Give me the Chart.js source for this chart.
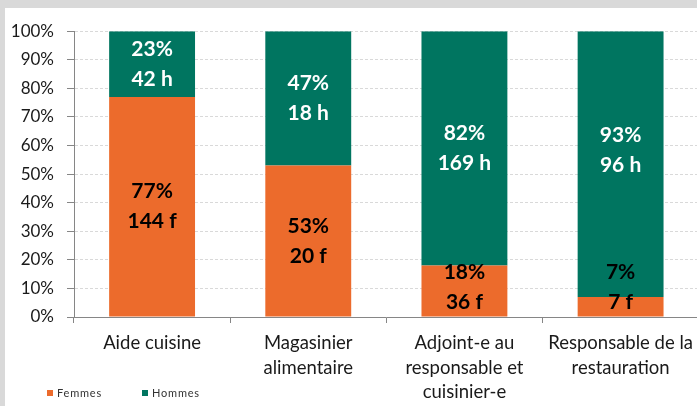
<!DOCTYPE html>
<html>
<head>
<meta charset="utf-8">
<script src="https://cdn.jsdelivr.net/npm/chart.js@4"></script>
<style>
  html, body { margin: 0; padding: 0; background: #d9d9d9; overflow: hidden; }
  #wrap { position: absolute; left: 5px; top: 8px; width: 696px; height: 398px; background: #fff; }
</style>
</head>
<body>
<div id="wrap"><canvas id="chartCanvas" width="696" height="398"></canvas></div>
<script>
const categories = [
  ["Aide cuisine"],
  ["Magasinier", "alimentaire"],
  ["Adjoint-e au", "responsable et", "cuisinier-e"],
  ["Responsable de la", "restauration"],
];
const femmesPct = [77, 53, 18, 7];
const hommesPct = [23, 47, 82, 93];
const femmesCount = [144, 20, 36, 7];
const hommesCount = [42, 18, 169, 96];
const yTicks = [0, 10, 20, 30, 40, 50, 60, 70, 80, 90, 100];

const orange = "#ec6b2c";
const green = "#007560";

// two-line labels centred in each segment
const segmentLabels = {
  id: "segmentLabels",
  afterDatasetsDraw(chart) {
    const ctx = chart.ctx;
    ctx.save();
    ctx.font = "bold 21px Lato";
    ctx.textAlign = "center";
    ctx.textBaseline = "middle";
    chart.data.datasets.forEach((ds, di) => {
      const meta = chart.getDatasetMeta(di);
      meta.data.forEach((bar, i) => {
        let cy = (bar.y + bar.base) / 2;
        if (di === 0) cy = Math.min(cy, bar.base - 29);
        if (di === 1 && i === 3) cy -= 14;
        const lines = di === 0
          ? [femmesPct[i] + "%", femmesCount[i] + " f"]
          : [hommesPct[i] + "%", hommesCount[i] + " h"];
        ctx.fillStyle = di === 0 ? "#000" : "#fff";
        ctx.fillText(lines[0], bar.x, cy - 15);
        ctx.fillText(lines[1], bar.x, cy + 15);
      });
    });
    ctx.restore();
  },
};

const bottomLegend = {
  id: "bottomLegend",
  afterDraw(chart) {
    const ctx = chart.ctx;
    const items = [
      { text: "Femmes", color: orange, x: 42 },
      { text: "Hommes", color: green, x: 137 },
    ];
    ctx.save();
    ctx.font = "11px Lato";
    ctx.letterSpacing = "0.8px";
    ctx.textBaseline = "middle";
    items.forEach((it) => {
      ctx.fillStyle = it.color;
      ctx.fillRect(it.x, 382, 6, 6);
      ctx.fillStyle = "#333";
      ctx.fillText(it.text, it.x + 10, 385.5);
    });
    ctx.restore();
  },
};

new Chart(document.getElementById("chartCanvas"), {
  type: "bar",
  data: {
    labels: categories,
    datasets: [
      { label: "Femmes", data: femmesPct, backgroundColor: orange, borderWidth: 0 },
      { label: "Hommes", data: hommesPct, backgroundColor: green, borderWidth: 0 },
    ],
  },
  options: {
    responsive: false,
    animation: false,
    categoryPercentage: 1,
    barPercentage: 0.55,
    layout: { padding: { top: 23, right: 0, left: 0, bottom: 0 } },
    plugins: {
      legend: { display: false },
      tooltip: { enabled: false },
    },
    scales: {
      x: {
        stacked: true,
        grid: {
          offset: true,
          drawOnChartArea: false,
          drawTicks: true,
          tickLength: 6,
          tickColor: "#868686",
        },
        border: { color: "#868686" },
        ticks: {
          color: "#1a1a1a",
          font: { family: "Lato", size: 18.5, lineHeight: 1.33 },
          maxRotation: 0,
          autoSkip: false,
          padding: 8,
        },
        afterFit(scale) { scale.height = 89; },
      },
      y: {
        stacked: true,
        min: 0,
        max: 100,
        afterBuildTicks(scale) { scale.ticks = yTicks.map((v) => ({ value: v })); },
        grid: {
          color: "#d9d9d9",
          tickColor: "#868686",
          tickLength: 7,
        },
        border: { color: "#868686", dash: [3, 2] },
        ticks: {
          color: "#1a1a1a",
          font: { family: "Lato", size: 17 },
          padding: 13,
          callback: (v) => v + "%",
        },
        afterFit(scale) { scale.width = 69; },
      },
    },
  },
  plugins: [segmentLabels, bottomLegend],
});
</script>
</body>
</html>
